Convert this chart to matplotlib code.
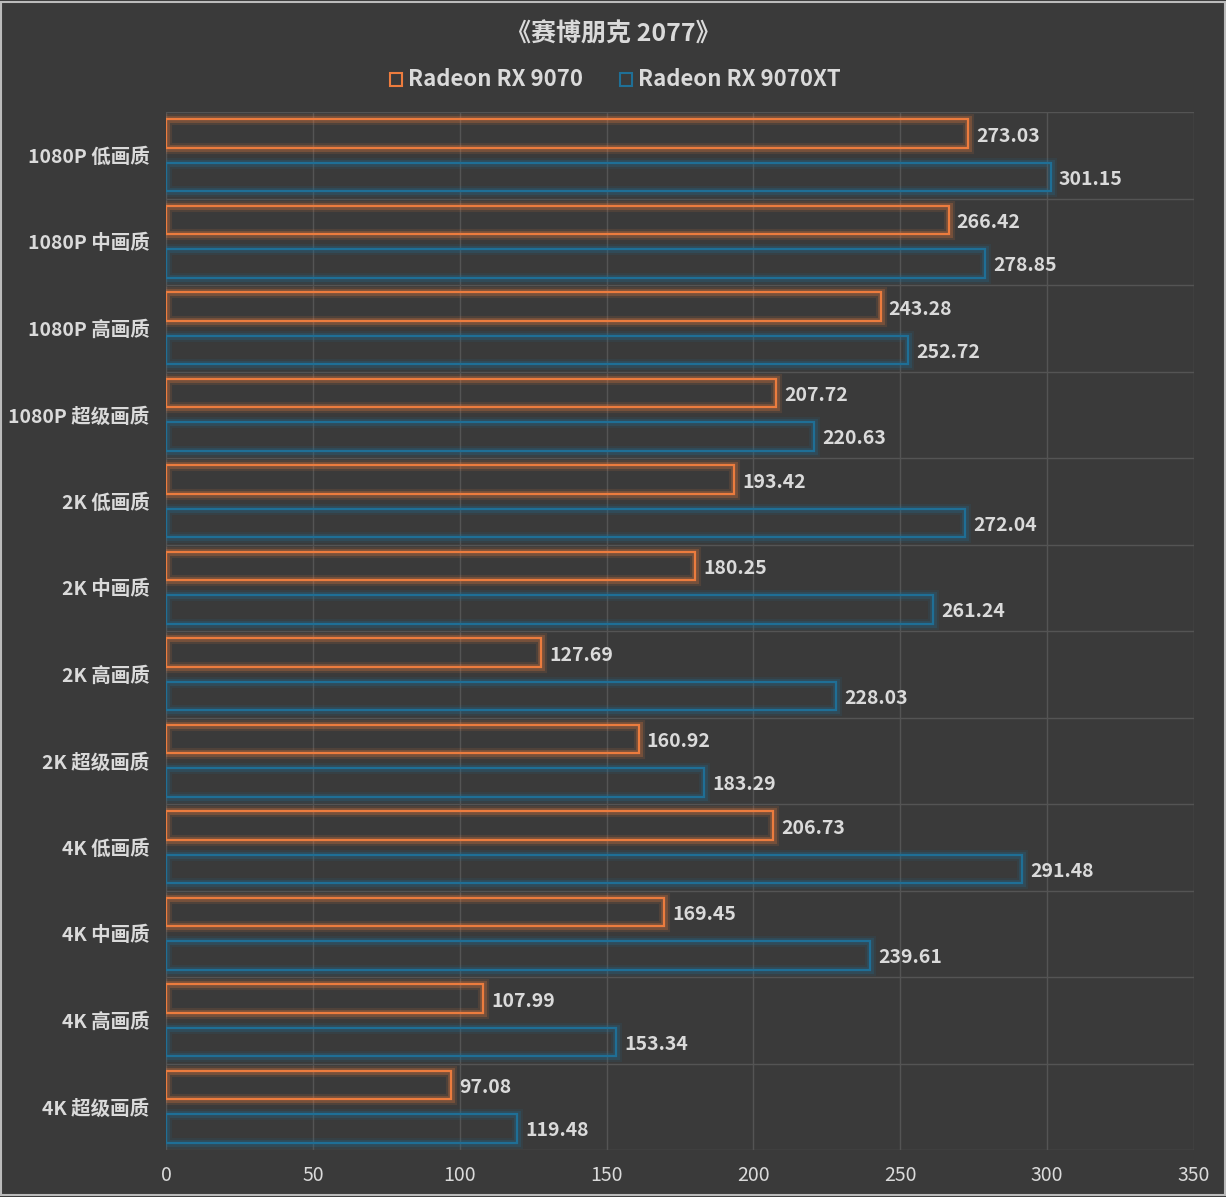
import matplotlib.pyplot as plt
import matplotlib.patheffects as pe
from matplotlib.patches import Rectangle
import numpy as np

plt.rcParams['font.family'] = ['Noto Sans CJK SC', 'DejaVu Sans']

categories = ['1080P 低画质', '1080P 中画质', '1080P 高画质', '1080P 超级画质',
              '2K 低画质', '2K 中画质', '2K 高画质', '2K 超级画质',
              '4K 低画质', '4K 中画质', '4K 高画质', '4K 超级画质']
rx9070 = [273.03, 266.42, 243.28, 207.72, 193.42, 180.25, 127.69, 160.92,
          206.73, 169.45, 107.99, 97.08]
rx9070xt = [301.15, 278.85, 252.72, 220.63, 272.04, 261.24, 228.03, 183.29,
            291.48, 239.61, 153.34, 119.48]
series_names = ['Radeon RX 9070', 'Radeon RX 9070XT']
xticks = [0, 50, 100, 150, 200, 250, 300, 350]

bg = '#3a3a3a'
grid_c = '#545454'
text_c = '#dadada'
orange = '#ec7c3e'
blue = '#1f6f96'

fig = plt.figure(figsize=(12.26, 11.97), dpi=100, facecolor=bg)
ax = fig.add_axes([166/1226, 1 - 1150/1197, 1028/1226, 1038/1197])
ax.set_facecolor(bg)

n = len(categories)
y = np.arange(n)
h = 0.33
off = 0.25

def glow(color):
    return [pe.Stroke(linewidth=8, foreground=color, alpha=0.12),
            pe.Stroke(linewidth=5, foreground=color, alpha=0.25),
            pe.Normal()]

b1 = ax.barh(y - off, rx9070, height=h, facecolor='none', edgecolor=orange, linewidth=1.6, zorder=3)
b2 = ax.barh(y + off, rx9070xt, height=h, facecolor='none', edgecolor=blue, linewidth=1.6, zorder=3)
for b in b1:
    b.set_path_effects(glow(orange))
for b in b2:
    b.set_path_effects(glow(blue))

# labels sit a touch low in the original
for yi, v in zip(y - off, rx9070):
    ax.text(v + 2.8, yi + 0.03, f'{v:.2f}', va='center', ha='left', color=text_c,
            fontsize=14, fontweight='bold')
for yi, v in zip(y + off, rx9070xt):
    ax.text(v + 2.8, yi + 0.03, f'{v:.2f}', va='center', ha='left', color=text_c,
            fontsize=14, fontweight='bold')

ax.set_xlim(0, 350)
ax.set_ylim(n - 0.5, -0.5)
ax.set_xticks(xticks)
ax.set_xticklabels([str(t) for t in xticks], color=text_c, fontsize=14)
ax.set_yticks(y)
ax.set_yticklabels(categories, color=text_c, fontsize=14, fontweight='bold')
ax.tick_params(length=0)
ax.tick_params(axis='x', pad=11)
ax.tick_params(axis='y', pad=12)
ax.set_yticks(np.arange(n + 1) - 0.5, minor=True)
ax.grid(axis='x', color=grid_c, linewidth=1, zorder=0)
ax.grid(axis='y', which='minor', color=grid_c, linewidth=1, zorder=0)
ax.tick_params(which='minor', length=0)
for s in ax.spines.values():
    s.set_visible(False)

fig.text(0.5, 1 - 35/1197, '《赛博朋克 2077》', ha='center', va='center',
         color=text_c, fontsize=18, fontweight='bold')

# legend
leg_y = 1 - 80/1197
for x0, name, col in [(390, series_names[0], orange), (620, series_names[1], blue)]:
    fig.patches.append(Rectangle((x0/1226, leg_y - 6/1197), 12/1226, 13/1197,
                                 transform=fig.transFigure, facecolor='none',
                                 edgecolor=col, linewidth=1.5))
    fig.text((x0 + 18)/1226, leg_y, name, ha='left', va='center', color=text_c,
             fontsize=16, fontweight='bold')

fig.patches.append(Rectangle((0.001, 0.002), 0.998, 0.996, transform=fig.transFigure,
                             facecolor='none', edgecolor='#bbbbbb', linewidth=1.5))

fig.savefig('out.png', dpi=100, facecolor=bg)
